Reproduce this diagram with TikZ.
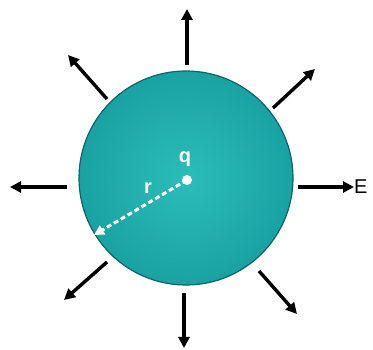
\documentclass[tikz,border=0pt]{standalone}
\usepackage{fontspec}
\setmainfont{Liberation Sans}
\usetikzlibrary{arrows.meta,shadings}
\definecolor{tealmid}{HTML}{2CBDB8}
\definecolor{tealedge}{HTML}{1AA2A3}
\definecolor{tealline}{HTML}{0E6466}
\begin{document}
\begin{tikzpicture}[x=1pt,y=-1pt,
  field/.style={line width=3.4pt,-{Triangle[length=11pt,width=11pt]},black},
  radius line/.style={line width=3pt,white,dash pattern=on 5pt off 3pt,-{Triangle[length=10pt,width=10pt]}},
  lbl/.style={font=\fontsize{20}{20}\selectfont\bfseries},
]
\useasboundingbox (0,0) rectangle (373,350);
\shade[inner color=tealmid, outer color=tealedge, draw=tealline, line width=1.2pt] (186,178) circle (107);
\node[circle,fill=white,inner sep=0pt,minimum size=10pt] (dot) at (187,180) {};
\coordinate (rend) at (94,235);
\draw[radius line] (dot.center) -- (rend);
\node[lbl,text=white] (q) at (185,159) {q};
\node[lbl,text=white] (r) at (148,188) {r};
% field arrows
\coordinate (t1) at (187,65);  \coordinate (t2) at (187,9);
\coordinate (b1) at (184,293); \coordinate (b2) at (184,348);
\coordinate (l1) at (67,187);  \coordinate (l2) at (10,187);
\coordinate (r1) at (298,187); \coordinate (r2) at (354,187);
\coordinate (ul1) at (107,99); \coordinate (ul2) at (68,55);
\coordinate (ur1) at (273,108); \coordinate (ur2) at (315,69);
\coordinate (ll1) at (107,262); \coordinate (ll2) at (64,300);
\coordinate (lr1) at (259,271); \coordinate (lr2) at (297,314);
\foreach \a in {t,b,l,r,ul,ur,ll,lr}{\draw[field] (\a1) -- (\a2);}
\node[font=\fontsize{20}{20}\selectfont,anchor=west,inner sep=0pt] (E) at (354,187) {E};
\end{tikzpicture}
\end{document}
